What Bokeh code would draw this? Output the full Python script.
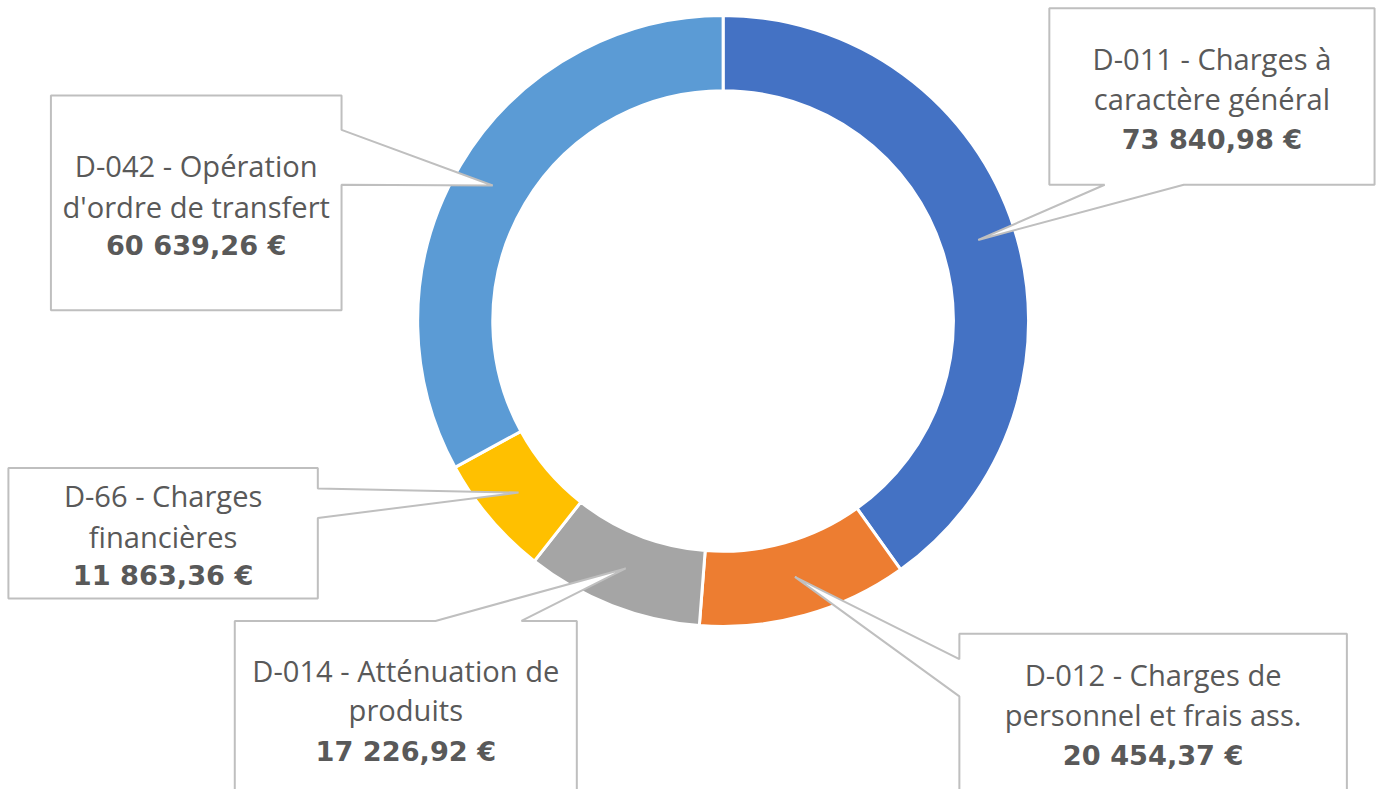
import math
from bokeh.plotting import figure
from bokeh.models import Range1d, ColumnDataSource
from bokeh.core.properties import value
from bokeh.embed import file_html
from bokeh.resources import INLINE

# ---- data ----
categories = [
    "D-011 - Charges à\ncaractère général",
    "D-012 - Charges de\npersonnel et frais ass.",
    "D-014 - Atténuation de\nproduits",
    "D-66 - Charges\nfinancières",
    "D-042 - Opération\nd'ordre de transfert",
]
amounts = [73840.98, 20454.37, 17226.92, 11863.36, 60639.26]
colors = ["#4472C4", "#ED7D31", "#A5A5A5", "#FFC000", "#5B9BD5"]

# ---- layout (reference-pixel coordinates, y measured from top of image) ----
W, H = 1379, 789
RW, RH = 1395, 805
S = W / RW
CX, CY = 731, 327
R_OUT, R_IN = 309, 233

# callout boxes: (left, top, right, bottom, side, a, b)
boxes = [
    (1061, 8, 1390, 188, "bottom", 1117, 1197),
    (970, 646, 1362, 830, "left", 672, 710),
    (237, 633, 583, 830, "top", 440, 527),
    (8, 477, 321, 610, "right", 498, 528),
    (51, 97, 345, 316, "right", 132, 188),
]
text_y = [(60, 101, 142), (688, 729, 770), (684, 724, 766), (506, 547, 587), (169, 211, 250)]


def Y(py):
    return RH - py


p = figure(width=W, height=H, output_backend="svg", toolbar_location=None,
           x_range=Range1d(0, RW), y_range=Range1d(0, RH),
           min_border=0, outline_line_color=None)
p.axis.visible = False
p.grid.visible = False
p.background_fill_color = "white"
p.border_fill_color = "white"

total = sum(amounts)
starts, ends, mids = [], [], []
cum = 0.0
for a in amounts:
    f0 = cum / total
    cum += a
    f1 = cum / total
    starts.append(math.pi / 2 - f0 * 2 * math.pi)
    ends.append(math.pi / 2 - f1 * 2 * math.pi)
    mids.append((f0 + f1) / 2)

src = ColumnDataSource(dict(start=starts, end=ends, color=colors))
p.annular_wedge(x=CX, y=Y(CY), inner_radius=R_IN, outer_radius=R_OUT,
                start_angle="start", end_angle="end", direction="clock",
                fill_color="color", line_color="white", line_width=3, source=src)


def fmt(v):
    s = f"{v:,.2f}"
    return s.replace(",", " ").replace(".", ",") + " €"


FS = f"{29.4 * S:.1f}px"
FSB = f"{27.5 * S:.1f}px"
for i, (l, t, r, b, side, a1, a2) in enumerate(boxes):
    m = mids[i] * 2 * math.pi
    rm = (R_OUT + R_IN) / 2
    tx = CX + rm * math.sin(m)
    ty = CY - rm * math.cos(m)
    if side == "bottom":
        pts = [(l, t), (r, t), (r, b), (a2, b), (tx, ty), (a1, b), (l, b)]
    elif side == "top":
        pts = [(l, t), (a1, t), (tx, ty), (a2, t), (r, t), (r, b), (l, b)]
    elif side == "left":
        pts = [(l, t), (r, t), (r, b), (l, b), (l, a2), (tx, ty), (l, a1)]
    else:
        pts = [(l, t), (r, t), (r, a1), (tx, ty), (r, a2), (r, b), (l, b)]
    p.patch([q[0] for q in pts], [Y(q[1]) for q in pts], fill_color="white",
            line_color="#BFBFBF", line_width=2)
    cxb = (l + r) / 2
    lines = categories[i].split("\n")
    ys = text_y[i]
    p.text(x=[cxb] * len(lines), y=[Y(v) for v in ys[:len(lines)]], text=lines,
           text_font=value("Open Sans"), text_font_size=FS, text_color="#595959",
           text_align="center", text_baseline="middle")
    p.text(x=[cxb], y=[Y(ys[2])], text=[fmt(amounts[i])],
           text_font=value("DejaVu Sans"), text_font_size=FSB, text_font_style="bold",
           text_color="#595959", text_align="center", text_baseline="middle")

open("out.html", "w").write(file_html(p, INLINE))
